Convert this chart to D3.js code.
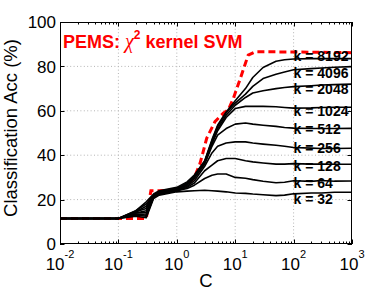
<!DOCTYPE html>
<html><head><meta charset="utf-8">
<script src="https://cdn.jsdelivr.net/npm/d3@7"></script>
<style>body{margin:0;background:#fff}svg{display:block}text{font-family:"Liberation Sans",Arial,Helvetica,sans-serif}</style>
</head><body><svg id="c" width="388" height="292"></svg>
<script>
// ---- data ----
const cValues = [0.01, 0.1, 0.2, 0.3, 0.4, 0.5, 1, 1.5, 2, 3, 4, 5, 7, 10, 15, 20, 30, 50, 70, 100, 200, 300, 500, 1000];
const kLabels = ["k = 32","k = 64","k = 128","k = 256","k = 512","k = 1024","k = 2048","k = 4096","k = 8192"];
const acc_k32   = [11.5,11.5,12.5,11.8,20.5,22,23.5,23.8,24,24.2,24,23.8,23.5,23,22.8,22.5,22.2,21.8,22,22.6,23,23,23.3,23.3];
const acc_k64   = [11.5,11.5,13,12.5,21,22.5,24,25,26.5,29.5,31,31.5,31.5,30,29.6,29,28.3,27.6,27.8,28.5,28.2,28.6,28.3,28.4];
const acc_k128  = [11.5,11.5,13.5,13,21,22.5,24,25.5,27.5,33,35.5,37.5,38.5,38.5,37.5,37,36.5,36,36,36.2,36,36,35.9,35.9];
const acc_k256  = [11.5,11.5,14,14,21.5,23,24,26,28.5,35,41,44,45.5,46,46,45.5,45,44.5,44,43.5,43.2,43,43,43.1];
const acc_k512  = [11.5,11.5,14,15,21.5,23,24.5,26.5,29.5,36,44,49,52,54,54.5,54,53.5,53,52.5,52.2,52,52,52,52.1];
const acc_k1024 = [11.5,11.5,14.5,16,22,23.5,24.5,27,30,36.5,45,51,57,61,62,62,62,61.8,61.5,61.2,61.3,61.5,61.6,61.6];
const acc_k2048 = [11.5,11.5,14.5,17,22,23.5,25,27,30.5,37,46,52,58,62.5,66,68,69,70,70.5,70.9,71.3,71.6,71.8,72];
const acc_k4096 = [11.5,11.5,15,18,22,23.5,25,27.5,31,37,46.5,53,59,63.5,67.5,71,74.5,76.5,77.5,78.5,79,79.3,79.6,79.9];
const acc_k8192 = [11.5,11.5,15,19,22.5,24,25.5,28,31,37.5,47,53.5,59.5,64.5,70,75,79.5,82.3,83,83.3,83.5,83.5,83.5,83.5];
const labelAcc  = [20.1, 27.6, 35.3, 43.1, 51.7, 59.9, 69.7, 76.9, 84.7]; // label centres (data units)
const labelC = 100;
const exactC   = [0.01,0.3,0.36,0.5,1,1.5,2,2.5,3.25,4.5,6.25,7.6,9.3,12,16.7,22,100,1000];
const exactAcc = [11.5,11.5,24,24,24.5,26.5,30,36.3,47.6,55.1,58.9,60.4,65.6,73.9,85.1,86.6,86.5,86.2];
const xTickExp = [-2,-1,0,1,2,3];
const yTicks = [0,20,40,60,80,100];
const titleMain = "PEMS: ", titleChi = "\u03C7", titleSup = "2", titleRest = " kernel SVM";
const xLabel = "C", yLabel = "Classification Acc (%)";

const series = [acc_k32,acc_k64,acc_k128,acc_k256,acc_k512,acc_k1024,acc_k2048,acc_k4096,acc_k8192];

// ---- layout ----
const L=60,R=352,T=22,B=244;
const svg=d3.select("#c");
const x=d3.scaleLog().domain([0.01,1000]).range([L,R]);
const y=d3.scaleLinear().domain([0,100]).range([B,T]);

// grid
const g=svg.append("g");
xTickExp.slice(1,-1).forEach(e=>{
  g.append("line").attr("x1",x(Math.pow(10,e))).attr("x2",x(Math.pow(10,e))).attr("y1",T).attr("y2",B)
   .attr("stroke","#b4b4b4").attr("stroke-width",1).attr("stroke-dasharray","1,2.4");
});
yTicks.slice(1,-1).forEach(v=>{
  g.append("line").attr("x1",L).attr("x2",R).attr("y1",y(v)).attr("y2",y(v))
   .attr("stroke","#b4b4b4").attr("stroke-width",1).attr("stroke-dasharray","1,2.4");
});

// ticks (inward, mirrored)
const minor=[];
for(let e=-2;e<3;e++) for(let m=2;m<=9;m++) minor.push(m*Math.pow(10,e));
const tk=svg.append("g").attr("stroke","#000").attr("stroke-width",1);
minor.forEach(v=>{
  const xx=Math.round(x(v))+0.5;
  tk.append("line").attr("x1",xx).attr("x2",xx).attr("y1",B).attr("y2",B-2.5);
  tk.append("line").attr("x1",xx).attr("x2",xx).attr("y1",T).attr("y2",T+2.5);
});
xTickExp.forEach(e=>{
  const xx=Math.round(x(Math.pow(10,e)))+0.5;
  tk.append("line").attr("x1",xx).attr("x2",xx).attr("y1",B).attr("y2",B-4.5);
  tk.append("line").attr("x1",xx).attr("x2",xx).attr("y1",T).attr("y2",T+4.5);
});
yTicks.forEach(v=>{
  const yy=Math.round(y(v))+0.5;
  tk.append("line").attr("x1",L).attr("x2",L+4.5).attr("y1",yy).attr("y2",yy);
  tk.append("line").attr("x1",R).attr("x2",R-4.5).attr("y1",yy).attr("y2",yy);
});

// lines
const line=d3.line().x(d=>x(d[0])).y(d=>y(d[1]));
svg.append("path").datum(exactC.map((c,i)=>[c,exactAcc[i]]))
  .attr("d",line).attr("fill","none").attr("stroke","#ff0000").attr("stroke-width",3).attr("stroke-dasharray","7,4");
series.forEach(s=>{
  svg.append("path").datum(cValues.map((c,i)=>[c,s[i]]))
    .attr("d",line).attr("fill","none").attr("stroke","#000").attr("stroke-width",1.6).attr("stroke-linejoin","round");
});

// box
svg.append("rect").attr("x",L+0.5).attr("y",T+0.5).attr("width",R-L-1).attr("height",B-T-1)
  .attr("fill","none").attr("stroke","#000").attr("stroke-width",1);

// k labels
kLabels.forEach((t,i)=>{
  svg.append("text").attr("x",x(labelC)).attr("y",y(labelAcc[i])).attr("dy","0.36em")
    .attr("font-size",14).attr("font-weight","bold").attr("fill","#000").text(t);
});

// tick labels
yTicks.forEach(v=>{
  svg.append("text").attr("x",L-4).attr("y",y(v)).attr("dy","0.36em").attr("text-anchor","end")
    .attr("font-size",17).text(v);
});
xTickExp.forEach(e=>{
  const t=svg.append("text").attr("x",x(Math.pow(10,e))).attr("y",269.5).attr("text-anchor","middle").attr("font-size",17);
  t.append("tspan").text("10");
  t.append("tspan").attr("font-size",11).attr("dy",-12).text(e);
});

// axis labels
svg.append("text").attr("x",(L+R)/2).attr("y",286.5).attr("text-anchor","middle").attr("font-size",18.5).text(xLabel);
svg.append("text").attr("transform","translate(17,128) rotate(-90)").attr("text-anchor","middle").attr("font-size",18.5).text(yLabel);

// title
const tt=svg.append("text").attr("x",63).attr("y",48).attr("fill","#ff0000").attr("font-size",18).attr("font-weight","bold");
tt.append("tspan").text(titleMain);
tt.append("tspan").attr("font-family","Liberation Serif").attr("font-weight","normal").attr("font-style","italic").attr("font-size",20).text(titleChi);
tt.append("tspan").attr("font-size",12).attr("dy",-9).text(titleSup);
tt.append("tspan").attr("dy",9).text(titleRest);
</script></body></html>
